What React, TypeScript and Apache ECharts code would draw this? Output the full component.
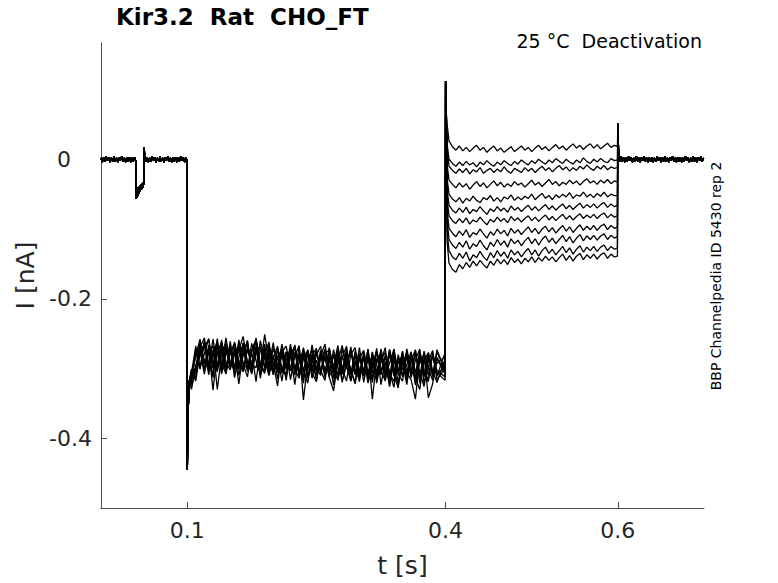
import React, { useEffect, useRef } from "react";
import * as echarts from "echarts";

// ---- data -------------------------------------------------------------
const X_TICKS = [0.1, 0.4, 0.6];
const Y_TICKS = [-0.4, -0.2, 0];

// shared baseline before the hold step (t, I) incl. the small test pulse
const PRE_BASELINE: number[][] = [
  [0.0, 0.002], [0.0015, -0.004], [0.003, 0.003], [0.0045, -0.003], [0.006, 0.004],
  [0.0075, -0.002], [0.009, 0.003], [0.0105, -0.004], [0.012, 0.002], [0.0135, -0.003],
  [0.015, 0.004], [0.0165, -0.003], [0.018, 0.002], [0.0195, -0.004], [0.021, 0.003],
  [0.0225, -0.002], [0.024, 0.004], [0.0255, -0.003], [0.027, 0.002], [0.0285, -0.004],
  [0.03, 0.003], [0.0315, -0.003], [0.033, 0.003], [0.0345, -0.004], [0.036, 0.002],
  [0.0375, -0.003], [0.039, 0.003], [0.0402, -0.002],
  [0.0405, -0.042], [0.0408, -0.057], [0.0412, -0.044], [0.0416, -0.055], [0.042, -0.043],
  [0.0424, -0.053], [0.0428, -0.041], [0.0432, -0.051], [0.0436, -0.04], [0.044, -0.049],
  [0.0444, -0.039], [0.0448, -0.047], [0.0452, -0.038], [0.0456, -0.046], [0.046, -0.037],
  [0.0464, -0.044], [0.0468, -0.036], [0.0472, -0.043], [0.0476, -0.035], [0.048, -0.041],
  [0.0484, -0.034], [0.0488, -0.04], [0.0492, -0.033], [0.0496, -0.037], [0.0499, 0.005],
  [0.0502, 0.017], [0.0507, 0.004],
  [0.052, -0.003], [0.0535, 0.003], [0.055, -0.004], [0.0565, 0.002], [0.058, -0.003],
  [0.0595, 0.004], [0.061, -0.002], [0.0625, 0.003], [0.064, -0.004], [0.0655, 0.002],
  [0.067, -0.003], [0.0685, 0.004], [0.07, -0.003], [0.0715, 0.002], [0.073, -0.004],
  [0.0745, 0.003], [0.076, -0.002], [0.0775, 0.004], [0.079, -0.003], [0.0805, 0.002],
  [0.082, -0.004], [0.0835, 0.003], [0.085, -0.003], [0.0865, 0.003], [0.088, -0.004],
  [0.0895, 0.002], [0.091, -0.003], [0.0925, 0.004], [0.094, -0.002], [0.0955, 0.003],
  [0.097, -0.004], [0.0985, 0.002], [0.0998, -0.001],
];

const ON_SPIKE: number[][] = [[0.1002, -0.445], [0.1012, -0.36], [0.1025, -0.318]];

const HOLD_T = [
  0.105, 0.11, 0.115, 0.12, 0.125, 0.13, 0.135, 0.14, 0.145, 0.15,
  0.155, 0.16, 0.165, 0.17, 0.175, 0.18, 0.185, 0.19, 0.195, 0.2,
  0.205, 0.21, 0.215, 0.22, 0.225, 0.23, 0.235, 0.24, 0.245, 0.25,
  0.255, 0.26, 0.265, 0.27, 0.275, 0.28, 0.285, 0.29, 0.295, 0.3,
  0.305, 0.31, 0.315, 0.32, 0.325, 0.33, 0.335, 0.34, 0.345, 0.35,
  0.355, 0.36, 0.365, 0.37, 0.375, 0.38, 0.385, 0.39, 0.3995,
];

const HOLD_1 = [
  -0.322, -0.271, -0.301, -0.262, -0.309, -0.274, -0.298, -0.259, -0.304, -0.277,
  -0.266, -0.31, -0.281, -0.26, -0.303, -0.27, -0.314, -0.276, -0.295, -0.263,
  -0.306, -0.279, -0.317, -0.271, -0.3, -0.284, -0.321, -0.274, -0.305, -0.281,
  -0.268, -0.311, -0.287, -0.324, -0.276, -0.306, -0.272, -0.318, -0.292, -0.279,
  -0.32, -0.283, -0.307, -0.271, -0.323, -0.29, -0.326, -0.279, -0.305, -0.275,
  -0.311, -0.285, -0.324, -0.274, -0.303, -0.316, -0.28, -0.309, -0.296,
];
const HOLD_2 = [
  -0.306, -0.281, -0.258, -0.302, -0.272, -0.313, -0.265, -0.293, -0.307, -0.261,
  -0.298, -0.274, -0.254, -0.292, -0.304, -0.267, -0.309, -0.28, -0.262, -0.305,
  -0.282, -0.318, -0.276, -0.303, -0.266, -0.311, -0.287, -0.275, -0.314, -0.288,
  -0.306, -0.272, -0.301, -0.28, -0.317, -0.284, -0.268, -0.309, -0.29, -0.319,
  -0.282, -0.314, -0.276, -0.321, -0.289, -0.27, -0.325, -0.286, -0.32, -0.293,
  -0.278, -0.313, -0.288, -0.272, -0.321, -0.297, -0.281, -0.311, -0.277,
];
const HOLD_3 = [
  -0.33, -0.298, -0.275, -0.308, -0.266, -0.296, -0.257, -0.303, -0.28, -0.268,
  -0.313, -0.284, -0.264, -0.3, -0.277, -0.319, -0.27, -0.297, -0.276, -0.309,
  -0.271, -0.299, -0.308, -0.279, -0.323, -0.278, -0.305, -0.273, -0.297, -0.31,
  -0.282, -0.265, -0.305, -0.314, -0.274, -0.301, -0.318, -0.28, -0.27, -0.307,
  -0.284, -0.321, -0.296, -0.275, -0.309, -0.283, -0.305, -0.327, -0.285, -0.312,
  -0.295, -0.276, -0.315, -0.291, -0.28, -0.342, -0.322, -0.284, -0.305,
];
const HOLD_4 = [
  -0.312, -0.301, -0.264, -0.294, -0.271, -0.331, -0.278, -0.262, -0.299, -0.269,
  -0.306, -0.259, -0.292, -0.301, -0.264, -0.289, -0.308, -0.271, -0.299, -0.281,
  -0.315, -0.276, -0.299, -0.265, -0.306, -0.292, -0.272, -0.311, -0.282, -0.303,
  -0.274, -0.309, -0.27, -0.302, -0.284, -0.317, -0.296, -0.273, -0.305, -0.314,
  -0.276, -0.308, -0.291, -0.316, -0.28, -0.305, -0.273, -0.311, -0.292, -0.282,
  -0.318, -0.285, -0.306, -0.277, -0.312, -0.29, -0.274, -0.316, -0.299,
];
const HOLD_5 = [
  -0.301, -0.318, -0.276, -0.265, -0.302, -0.258, -0.296, -0.271, -0.308, -0.278,
  -0.263, -0.297, -0.27, -0.304, -0.276, -0.262, -0.298, -0.251, -0.29, -0.307,
  -0.273, -0.302, -0.311, -0.283, -0.269, -0.306, -0.279, -0.314, -0.292, -0.274,
  -0.303, -0.317, -0.277, -0.297, -0.267, -0.308, -0.284, -0.302, -0.32, -0.279,
  -0.305, -0.273, -0.313, -0.292, -0.281, -0.318, -0.276, -0.304, -0.285, -0.31,
  -0.272, -0.301, -0.313, -0.283, -0.307, -0.319, -0.278, -0.303, -0.312,
];
const HOLD_6 = [
  -0.318, -0.276, -0.3, -0.26, -0.293, -0.307, -0.267, -0.298, -0.256, -0.291,
  -0.303, -0.269, -0.294, -0.312, -0.273, -0.258, -0.3, -0.279, -0.309, -0.27,
  -0.295, -0.304, -0.276, -0.316, -0.282, -0.267, -0.345, -0.291, -0.273, -0.306,
  -0.28, -0.312, -0.271, -0.303, -0.283, -0.32, -0.289, -0.275, -0.308, -0.27,
  -0.311, -0.285, -0.32, -0.276, -0.304, -0.281, -0.313, -0.272, -0.307, -0.29,
  -0.323, -0.281, -0.305, -0.312, -0.275, -0.3, -0.317, -0.286, -0.308,
];
const HOLD_7 = [
  -0.307, -0.268, -0.298, -0.279, -0.257, -0.3, -0.275, -0.306, -0.266, -0.295,
  -0.276, -0.302, -0.263, -0.29, -0.308, -0.273, -0.297, -0.265, -0.305, -0.284,
  -0.268, -0.307, -0.289, -0.272, -0.301, -0.314, -0.278, -0.303, -0.266, -0.298,
  -0.31, -0.279, -0.273, -0.305, -0.316, -0.282, -0.3, -0.269, -0.309, -0.286,
  -0.303, -0.272, -0.344, -0.287, -0.277, -0.311, -0.292, -0.273, -0.308, -0.318,
  -0.281, -0.305, -0.273, -0.314, -0.288, -0.278, -0.307, -0.292, -0.283,
];
const HOLD_8 = [
  -0.324, -0.306, -0.28, -0.27, -0.258, -0.295, -0.303, -0.275, -0.264, -0.3,
  -0.279, -0.266, -0.304, -0.273, -0.294, -0.256, -0.297, -0.307, -0.271, -0.292,
  -0.3, -0.265, -0.294, -0.303, -0.277, -0.309, -0.27, -0.3, -0.279, -0.318,
  -0.285, -0.274, -0.304, -0.279, -0.311, -0.272, -0.296, -0.318, -0.278, -0.305,
  -0.284, -0.313, -0.277, -0.305, -0.282, -0.309, -0.273, -0.3, -0.325, -0.28,
  -0.306, -0.316, -0.344, -0.283, -0.309, -0.277, -0.303, -0.32, -0.286,
];
const HOLD_9 = [
  -0.31, -0.283, -0.264, -0.288, -0.304, -0.28, -0.261, -0.308, -0.273, -0.297,
  -0.262, -0.29, -0.305, -0.268, -0.294, -0.299, -0.26, -0.287, -0.31, -0.283,
  -0.303, -0.276, -0.268, -0.3, -0.309, -0.279, -0.301, -0.321, -0.282, -0.271,
  -0.306, -0.284, -0.313, -0.332, -0.289, -0.267, -0.298, -0.308, -0.281, -0.313,
  -0.278, -0.319, -0.284, -0.31, -0.272, -0.301, -0.317, -0.281, -0.306, -0.276,
  -0.314, -0.287, -0.274, -0.321, -0.291, -0.283, -0.312, -0.273, -0.303,
];
const HOLD_10 = [
  -0.316, -0.296, -0.272, -0.303, -0.278, -0.267, -0.33, -0.281, -0.269, -0.298,
  -0.276, -0.322, -0.277, -0.264, -0.299, -0.273, -0.294, -0.304, -0.266, -0.293,
  -0.325, -0.273, -0.297, -0.278, -0.305, -0.269, -0.313, -0.279, -0.3, -0.275,
  -0.304, -0.282, -0.312, -0.273, -0.299, -0.308, -0.277, -0.302, -0.322, -0.285,
  -0.274, -0.306, -0.281, -0.314, -0.287, -0.277, -0.307, -0.319, -0.28, -0.302,
  -0.284, -0.31, -0.279, -0.305, -0.326, -0.282, -0.309, -0.277, -0.301,
];
const HOLD_11 = [
  -0.303, -0.313, -0.27, -0.256, -0.297, -0.275, -0.305, -0.264, -0.291, -0.302,
  -0.271, -0.3, -0.279, -0.26, -0.306, -0.275, -0.268, -0.3, -0.28, -0.308,
  -0.284, -0.272, -0.302, -0.281, -0.267, -0.309, -0.282, -0.275, -0.306, -0.319,
  -0.277, -0.303, -0.283, -0.311, -0.27, -0.3, -0.279, -0.308, -0.275, -0.302,
  -0.31, -0.281, -0.3, -0.275, -0.304, -0.317, -0.278, -0.308, -0.328, -0.283,
  -0.306, -0.277, -0.313, -0.33, -0.284, -0.31, -0.28, -0.306, -0.317,
];

const TAIL_SPIKE: number[][] = [[0.4, 0.112], [0.4008, 0.068]];

const STEP_T = [
  0.4018, 0.404, 0.408,
  0.412, 0.416, 0.42, 0.424, 0.428, 0.432, 0.436, 0.44, 0.444, 0.448,
  0.452, 0.456, 0.46, 0.464, 0.468, 0.472, 0.476, 0.48, 0.484, 0.488,
  0.492, 0.496, 0.5, 0.504, 0.508, 0.512, 0.516, 0.52, 0.524, 0.528,
  0.532, 0.536, 0.54, 0.544, 0.548, 0.552, 0.556, 0.56, 0.564, 0.568,
  0.572, 0.576, 0.58, 0.584, 0.588, 0.592, 0.596, 0.5995,
];

const STEP_1 = [
  0.05, 0.026, 0.018,
  0.013, 0.019, 0.012, 0.017, 0.011, 0.016, 0.02, 0.013, 0.017, 0.01,
  0.015, 0.019, 0.012, 0.016, 0.01, 0.014, 0.018, 0.011, 0.015, 0.019,
  0.013, 0.017, 0.011, 0.016, 0.02, 0.014, 0.018, 0.012, 0.017, 0.021,
  0.015, 0.019, 0.013, 0.018, 0.022, 0.016, 0.02, 0.014, 0.019, 0.022,
  0.016, 0.021, 0.015, 0.019, 0.023, 0.017, 0.02, 0.018,
];
const STEP_2 = [
  0.022, 0.0, -0.006,
  -0.01, -0.004, -0.009, -0.003, -0.008, -0.005, -0.011, -0.004, -0.008, -0.002,
  -0.007, -0.01, -0.004, -0.008, -0.002, -0.006, -0.009, -0.003, -0.007, -0.001,
  -0.005, -0.008, -0.002, -0.006, 0.0, -0.004, -0.007, -0.001, -0.005, 0.001,
  -0.003, -0.006, 0.0, -0.004, -0.007, -0.001, -0.005, 0.002, -0.003, -0.006,
  0.0, -0.004, 0.001, -0.003, -0.005, 0.001, -0.002, -0.001,
];
const STEP_3 = [
  0.012, -0.01, -0.016,
  -0.02, -0.014, -0.019, -0.013, -0.021, -0.015, -0.018, -0.012, -0.02, -0.016,
  -0.013, -0.019, -0.014, -0.018, -0.011, -0.017, -0.02, -0.013, -0.016, -0.019,
  -0.012, -0.017, -0.013, -0.019, -0.014, -0.01, -0.016, -0.012, -0.018, -0.013,
  -0.009, -0.015, -0.011, -0.017, -0.012, -0.016, -0.01, -0.014, -0.008, -0.013,
  -0.016, -0.01, -0.014, -0.009, -0.015, -0.011, -0.013, -0.012,
];
const STEP_4 = [
  -0.008, -0.03, -0.036,
  -0.041, -0.034, -0.04, -0.035, -0.043, -0.037, -0.032, -0.039, -0.034, -0.041,
  -0.036, -0.031, -0.038, -0.033, -0.04, -0.035, -0.039, -0.032, -0.037, -0.034,
  -0.04, -0.035, -0.03, -0.037, -0.033, -0.039, -0.034, -0.029, -0.036, -0.032,
  -0.038, -0.033, -0.036, -0.03, -0.035, -0.031, -0.037, -0.032, -0.028, -0.034,
  -0.031, -0.036, -0.03, -0.034, -0.029, -0.035, -0.031, -0.033,
];
const STEP_5 = [
  -0.028, -0.05, -0.057,
  -0.061, -0.055, -0.063, -0.056, -0.06, -0.053, -0.059, -0.062, -0.055, -0.058,
  -0.052, -0.06, -0.055, -0.061, -0.054, -0.057, -0.051, -0.059, -0.054, -0.058,
  -0.053, -0.056, -0.05, -0.058, -0.053, -0.049, -0.056, -0.052, -0.058, -0.051,
  -0.055, -0.05, -0.054, -0.048, -0.056, -0.051, -0.053, -0.047, -0.054, -0.05,
  -0.055, -0.049, -0.053, -0.047, -0.054, -0.05, -0.052, -0.052,
];
const STEP_6 = [
  -0.043, -0.066, -0.073,
  -0.077, -0.07, -0.076, -0.069, -0.078, -0.072, -0.075, -0.068, -0.074, -0.079,
  -0.071, -0.075, -0.068, -0.074, -0.07, -0.076, -0.067, -0.073, -0.069, -0.075,
  -0.07, -0.066, -0.073, -0.068, -0.074, -0.069, -0.065, -0.072, -0.067, -0.073,
  -0.068, -0.064, -0.071, -0.066, -0.072, -0.067, -0.063, -0.07, -0.065, -0.069,
  -0.064, -0.07, -0.065, -0.062, -0.069, -0.064, -0.068, -0.066,
];
const STEP_7 = [
  -0.058, -0.081, -0.088,
  -0.092, -0.085, -0.091, -0.084, -0.093, -0.087, -0.09, -0.083, -0.089, -0.094,
  -0.086, -0.09, -0.083, -0.089, -0.085, -0.091, -0.082, -0.088, -0.084, -0.09,
  -0.085, -0.081, -0.088, -0.083, -0.089, -0.084, -0.08, -0.087, -0.082, -0.088,
  -0.083, -0.079, -0.086, -0.081, -0.087, -0.082, -0.078, -0.085, -0.08, -0.084,
  -0.079, -0.085, -0.08, -0.077, -0.084, -0.079, -0.083, -0.081,
];
const STEP_8 = [
  -0.073, -0.099, -0.106,
  -0.111, -0.103, -0.109, -0.101, -0.112, -0.105, -0.108, -0.1, -0.107, -0.113,
  -0.104, -0.109, -0.1, -0.107, -0.102, -0.11, -0.099, -0.106, -0.101, -0.108,
  -0.102, -0.097, -0.105, -0.099, -0.107, -0.1, -0.096, -0.104, -0.098, -0.106,
  -0.1, -0.095, -0.103, -0.097, -0.105, -0.099, -0.094, -0.102, -0.096, -0.101,
  -0.095, -0.102, -0.096, -0.093, -0.101, -0.095, -0.099, -0.097,
];
const STEP_9 = [
  -0.088, -0.115, -0.123,
  -0.128, -0.119, -0.126, -0.117, -0.129, -0.121, -0.125, -0.116, -0.124, -0.13,
  -0.119, -0.125, -0.115, -0.123, -0.117, -0.126, -0.114, -0.121, -0.116, -0.124,
  -0.117, -0.112, -0.121, -0.114, -0.123, -0.115, -0.11, -0.119, -0.113, -0.121,
  -0.115, -0.109, -0.118, -0.111, -0.12, -0.113, -0.108, -0.117, -0.11, -0.115,
  -0.109, -0.116, -0.11, -0.107, -0.115, -0.109, -0.113, -0.111,
];
const STEP_10 = [
  -0.103, -0.131, -0.14,
  -0.144, -0.135, -0.142, -0.133, -0.146, -0.137, -0.141, -0.132, -0.14, -0.145,
  -0.134, -0.141, -0.131, -0.139, -0.133, -0.142, -0.13, -0.137, -0.132, -0.14,
  -0.133, -0.128, -0.137, -0.13, -0.139, -0.131, -0.126, -0.135, -0.129, -0.137,
  -0.131, -0.125, -0.134, -0.127, -0.136, -0.129, -0.124, -0.133, -0.126, -0.131,
  -0.125, -0.132, -0.126, -0.123, -0.131, -0.125, -0.129, -0.127,
];
const STEP_11 = [
  -0.118, -0.149, -0.158,
  -0.162, -0.151, -0.157, -0.148, -0.155, -0.146, -0.153, -0.145, -0.151, -0.156,
  -0.146, -0.152, -0.143, -0.15, -0.144, -0.151, -0.141, -0.148, -0.143, -0.15,
  -0.142, -0.147, -0.14, -0.148, -0.141, -0.146, -0.139, -0.145, -0.14, -0.147,
  -0.141, -0.136, -0.145, -0.138, -0.146, -0.139, -0.135, -0.144, -0.137, -0.142,
  -0.136, -0.143, -0.137, -0.134, -0.142, -0.136, -0.14, -0.139,
];

const END_SPIKE: number[][] = [[0.6, 0.052], [0.6008, 0.012]];

const POST_BASELINE: number[][] = [
  [0.602, -0.003], [0.6035, 0.004], [0.605, -0.003], [0.6065, 0.003], [0.608, -0.004],
  [0.6095, 0.002], [0.611, -0.003], [0.6125, 0.004], [0.614, -0.002], [0.6155, 0.003],
  [0.617, -0.004], [0.6185, 0.002], [0.62, -0.003], [0.6215, 0.004], [0.623, -0.003],
  [0.6245, 0.002], [0.626, -0.004], [0.6275, 0.003], [0.629, -0.002], [0.6305, 0.004],
  [0.632, -0.003], [0.6335, 0.002], [0.635, -0.004], [0.6365, 0.003], [0.638, -0.003],
  [0.6395, 0.003], [0.641, -0.004], [0.6425, 0.002], [0.644, -0.003], [0.6455, 0.004],
  [0.647, -0.002], [0.6485, 0.003], [0.65, -0.004], [0.6515, 0.002], [0.653, -0.003],
  [0.6545, 0.004], [0.656, -0.003], [0.6575, 0.002], [0.659, -0.004], [0.6605, 0.003],
  [0.662, -0.002], [0.6635, 0.004], [0.665, -0.003], [0.6665, 0.002], [0.668, -0.004],
  [0.6695, 0.003], [0.671, -0.003], [0.6725, 0.003], [0.674, -0.004], [0.6755, 0.002],
  [0.677, -0.003], [0.6785, 0.004], [0.68, -0.002], [0.6815, 0.003], [0.683, -0.004],
  [0.6845, 0.002], [0.686, -0.003], [0.6875, 0.004], [0.689, -0.003], [0.6905, 0.002],
  [0.692, -0.004], [0.6935, 0.003], [0.695, -0.002], [0.6965, 0.004], [0.698, -0.003],
  [0.6995, 0.002],
];

const HOLDS = [HOLD_1, HOLD_2, HOLD_3, HOLD_4, HOLD_5, HOLD_6, HOLD_7, HOLD_8, HOLD_9, HOLD_10, HOLD_11];
const STEPS = [STEP_1, STEP_2, STEP_3, STEP_4, STEP_5, STEP_6, STEP_7, STEP_8, STEP_9, STEP_10, STEP_11];

function buildTrace(k: number): number[][] {
  const pts: number[][] = [];
  PRE_BASELINE.forEach((p) => pts.push(p));
  ON_SPIKE.forEach((p) => pts.push(p));
  HOLD_T.forEach((t, i) => pts.push([t, HOLDS[k][i]]));
  TAIL_SPIKE.forEach((p) => pts.push(p));
  STEP_T.forEach((t, i) => pts.push([t, STEPS[k][i]]));
  END_SPIKE.forEach((p) => pts.push(p));
  POST_BASELINE.forEach((p) => pts.push(p));
  return pts;
}

const FONT = "DejaVu Sans";
const TXT = "#262626";
const AXC = "#4d4d4d";

export default function App() {
  const ref = useRef<HTMLDivElement>(null);
  useEffect(() => {
    if (!ref.current) return;
    const chart = echarts.init(ref.current, undefined, { renderer: "svg" });
    const series = HOLDS.map((_, k) => ({
      type: "line",
      data: buildTrace(k),
      showSymbol: false,
      symbol: "none",
      silent: true,
      lineStyle: { color: "#000000", width: 1.3 },
      z: 2,
    }));
    chart.setOption({
      animation: false,
      backgroundColor: "#ffffff",
      grid: { left: 101, right: 74, top: 43, bottom: 72, containLabel: false },
      xAxis: {
        type: "value",
        min: 0,
        max: 0.7,
        name: "t [s]",
        nameLocation: "middle",
        nameGap: 45,
        nameTextStyle: { fontFamily: FONT, fontSize: 25, color: TXT },
        axisLine: { show: true, onZero: false, lineStyle: { color: AXC, width: 1 } },
        axisTick: { show: true, inside: true, length: 6, customValues: X_TICKS, lineStyle: { color: AXC } },
        axisLabel: {
          customValues: X_TICKS,
          margin: 11,
          fontFamily: FONT,
          fontSize: 22,
          color: TXT,
          formatter: (v: number) => String(v),
        },
        splitLine: { show: false },
      },
      yAxis: {
        type: "value",
        min: -0.5,
        max: 0.1667,
        name: "I [nA]",
        nameLocation: "middle",
        nameGap: 60,
        nameTextStyle: { fontFamily: FONT, fontSize: 25, color: TXT },
        axisLine: { show: true, onZero: false, lineStyle: { color: AXC, width: 1 } },
        axisTick: { show: true, inside: true, length: 6, customValues: Y_TICKS, lineStyle: { color: AXC } },
        axisLabel: {
          customValues: Y_TICKS,
          margin: 9,
          fontFamily: FONT,
          fontSize: 22,
          color: TXT,
          formatter: (v: number) => (Math.abs(v) < 1e-9 ? "{z|0}" : String(v)),
          rich: {
            z: { fontFamily: FONT, fontSize: 22, color: TXT, padding: [0, 21, 0, 0] },
          },
        },
        splitLine: { show: false },
      },
      graphic: [
        {
          type: "text",
          x: 116,
          y: 17,
          style: {
            text: "Kir3.2  Rat  CHO_FT",
            fontFamily: FONT,
            fontWeight: "bold",
            fontSize: 23,
            fill: "#000000",
            align: "left",
            verticalAlign: "middle",
          },
        },
        {
          type: "text",
          x: 702,
          y: 41,
          style: {
            text: "25 °C  Deactivation",
            fontFamily: FONT,
            fontSize: 19,
            fill: "#000000",
            align: "right",
            verticalAlign: "middle",
          },
        },
        {
          type: "text",
          x: 716,
          y: 276,
          rotation: Math.PI / 2,
          style: {
            text: "BBP Channelpedia ID 5430 rep 2",
            fontFamily: FONT,
            fontSize: 14,
            fill: "#000000",
            align: "center",
            verticalAlign: "middle",
          },
        },
      ],
      series,
    });
    return () => chart.dispose();
  }, []);
  return (
    <div
      ref={ref}
      style={{ position: "absolute", left: 0, top: 0, width: 778, height: 583 }}
    />
  );
}
